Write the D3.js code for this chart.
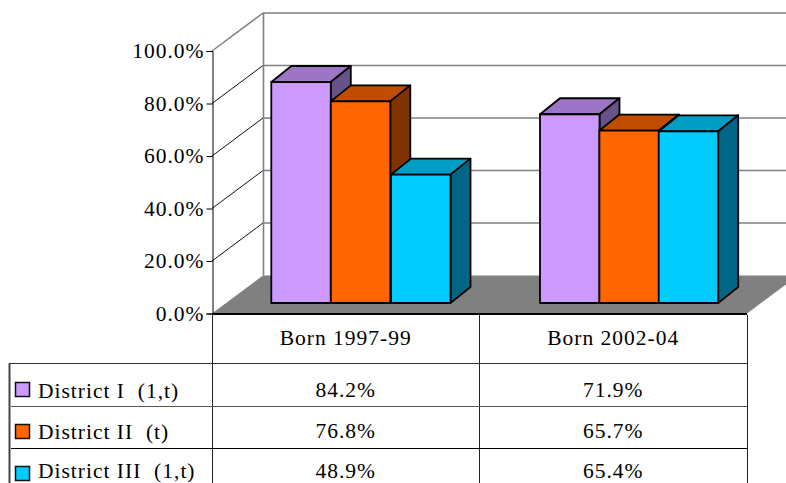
<!DOCTYPE html>
<html><head><meta charset="utf-8">
<script src="https://cdn.jsdelivr.net/npm/d3@7/dist/d3.min.js"></script>
<style>html,body{margin:0;padding:0;background:#fff;overflow:hidden}svg{display:block}
text{font-family:"Liberation Serif",serif;fill:#000;letter-spacing:1px}</style></head><body>
<script>
const categories = ["Born 1997-99", "Born 2002-04"];
const seriesNames = ["District I  (1,t)", "District II  (t)", "District III  (1,t)"];
const districtI = [84.2, 71.9];
const districtII = [76.8, 65.7];
const districtIII = [48.9, 65.4];
const tickValues = [0, 20, 40, 60, 80, 100];
const frontColors = ["#cc99ff", "#ff6600", "#00ccff"];
const topColors = ["#9c75c4", "#bf4d00", "#009dc4"];
const sideColors = ["#67528a", "#803300", "#006685"];

const W = 786, H = 483;
const FS = "21.5px";
const svg = d3.select("body").append("svg").attr("width", W).attr("height", H);
const y = d3.scaleLinear().domain([0, 100]).range([313.5, 51]);
const x = d3.scaleBand().domain(categories).range([212, 747]);
const depthX = 51, depthY = -38;
const barDX = 20, barDY = -16, barBase = -10.5, barW = 59.5;
const grey = "#808080";

// back wall and side wall grid
tickValues.forEach(t => {
  const yy = y(t);
  if (t > 0) {
    svg.append("line").attr("x1", 212).attr("y1", yy).attr("x2", 212 + depthX).attr("y2", yy + depthY)
      .attr("stroke", t === 100 ? grey : "#111").attr("stroke-width", t === 100 ? 1.5 : 1);
    svg.append("line").attr("x1", 212 + depthX).attr("y1", yy + depthY).attr("x2", W).attr("y2", yy + depthY)
      .attr("stroke", grey).attr("stroke-width", 1.6);
  }
});
svg.append("line").attr("x1", 263.5).attr("x2", 263.5).attr("y1", y(100) + depthY).attr("y2", y(0) + depthY)
  .attr("stroke", grey).attr("stroke-width", 1.6);

// floor
svg.append("path").attr("fill", grey).attr("stroke", "none")
  .attr("d", d3.line()([[212, y(0)], [212 + depthX, y(0) + depthY], [747 + depthX, y(0) + depthY], [747, y(0)]]) + "Z");

// axis
const axis = d3.axisLeft(y).tickValues(tickValues).tickFormat(d => d.toFixed(1) + "%").tickSize(6).tickPadding(2);
const ag = svg.append("g").attr("transform", "translate(212.5,0)").call(axis);
ag.selectAll("text").style("font-size", FS).style("font-family", '"Liberation Serif",serif').attr("fill", "#000");
ag.selectAll("line,path").attr("stroke", "#000");

// bars
const seriesValues = [districtI, districtII, districtIII];
const starts = [[271.3, 330.8, 391], [540, 599.4, 658.7]];
categories.forEach((c, ci) => {
  seriesValues.forEach((vals, si) => {
    const h = y(0) - y(vals[ci]);
    const x0 = starts[ci][si], x1 = x0 + barW;
    const yb = y(0) + barBase, yt = yb - h;
    const g = svg.append("g").attr("stroke", "#000").attr("stroke-width", 1.8).attr("stroke-linejoin", "round");
    g.append("path").attr("fill", topColors[si]).attr("d", d3.line()([[x0, yt], [x0 + barDX, yt + barDY], [x1 + barDX, yt + barDY], [x1, yt]]) + "Z");
    g.append("path").attr("fill", sideColors[si]).attr("d", d3.line()([[x1, yt], [x1 + barDX, yt + barDY], [x1 + barDX, yb + barDY], [x1, yb]]) + "Z");
    g.append("rect").attr("fill", frontColors[si]).attr("x", x0).attr("y", yt).attr("width", barW).attr("height", h);
  });
});

// axis baseline
svg.append("line").attr("x1", 212).attr("x2", 747).attr("y1", 314).attr("y2", 314).attr("stroke", "#000").attr("stroke-width", 2.2);

// data table
const rowLines = [363.5, 406.5, 448.5];
const rowLineColors = ["#333", "#555", "#000"];
const keyTops = [382.5, 424.5, 466.5];
const nameBase = [398, 439, 477.5];
const valueBase = [397, 438, 477.5];
const colLines = [212.5, 479.5, 747.5];
colLines.forEach(cx => svg.append("line").attr("x1", cx).attr("x2", cx).attr("y1", 315).attr("y2", H).attr("stroke", "#222"));
svg.append("line").attr("x1", 9.5).attr("x2", 9.5).attr("y1", rowLines[0]).attr("y2", H).attr("stroke", "#444").attr("stroke-width", 2);
rowLines.forEach((ry, i) => svg.append("line").attr("x1", i ? 11 : 9).attr("x2", 747.5).attr("y1", ry).attr("y2", ry).attr("stroke", rowLineColors[i]));
categories.forEach(c => svg.append("text").attr("x", x(c) + x.bandwidth() / 2).attr("y", 345).attr("text-anchor", "middle").style("font-size", FS).text(c));
seriesNames.forEach((n, i) => {
  svg.append("rect").attr("x", 15.5).attr("y", keyTops[i]).attr("width", 14).attr("height", 14).attr("fill", frontColors[i]).attr("stroke", "#111").attr("stroke-width", 1.5);
  svg.append("text").attr("x", 38).attr("y", nameBase[i]).style("font-size", FS).style("white-space", "pre").text(n);
  categories.forEach((c, ci) => svg.append("text").attr("x", x(c) + x.bandwidth() / 2).attr("y", valueBase[i]).attr("text-anchor", "middle").style("font-size", FS).text(seriesValues[i][ci].toFixed(1) + "%"));
});
</script></body></html>
